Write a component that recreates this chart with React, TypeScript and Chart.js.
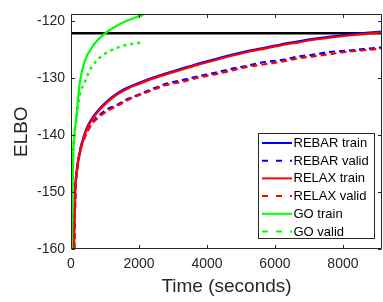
import React, { useEffect, useRef } from 'react';
import { Chart, registerables } from 'chart.js';

Chart.register(...registerables);

// ---- axes ----
const xTicks = [0, 2000, 4000, 6000, 8000];
const yTicks = [-160, -150, -140, -130, -120];
const xMin = 0;
const xMax = 9150;
const yMin = -160;
const yMax = -118.8;
const xTitle = 'Time (seconds)';
const yTitle = 'ELBO';

// ---- horizontal reference line ----
const refLineY = -122.1;

// ---- series ----
const relaxTrainT = [90, 105, 125, 180, 255, 330, 400, 500, 600, 700, 850, 1000, 1190, 1400, 1675, 2000, 2300, 2700, 3200, 3700, 4200, 4700, 5200, 5700, 6200, 6700, 7100, 7600, 8100, 8600, 9150];
const relaxTrainY = [-160, -155, -150, -146, -143.4, -141.5, -140, -138.5, -137.4, -136.6, -135.5, -134.6, -133.6, -132.7, -131.8, -131.0, -130.3, -129.5, -128.6, -127.7, -126.9, -126.1, -125.4, -124.8, -124.2, -123.7, -123.3, -122.9, -122.55, -122.25, -121.95];

const rebarTrainT = [80, 95, 118, 172, 248, 322, 392, 492, 592, 690, 840, 990, 1180, 1390, 1665, 1990, 2290, 2690, 3190, 3690, 4190, 4690, 5190, 5690, 6190, 6690, 7090, 7590, 8090, 8590, 9150];
const rebarTrainY = [-160, -155, -150, -146, -143.3, -141.4, -139.9, -138.4, -137.3, -136.45, -135.35, -134.45, -133.45, -132.55, -131.65, -130.85, -130.15, -129.35, -128.45, -127.55, -126.75, -125.95, -125.25, -124.65, -124.05, -123.55, -123.15, -122.75, -122.4, -122.1, -121.8];

const rebarValidT = [95, 130, 190, 270, 400, 600, 890, 1150, 1380, 1620, 1870, 2265, 2800, 3300, 3800, 4200, 4700, 5200, 5650, 6200, 6700, 7100, 7600, 8100, 8600, 9150];
const rebarValidY = [-160, -150, -145.5, -142.5, -140.3, -138.0, -136.2, -135.2, -134.6, -133.8, -133.2, -132.2, -131.0, -130.3, -129.6, -129.1, -128.4, -127.8, -127.2, -126.8, -126.2, -125.9, -125.4, -125.2, -124.9, -124.6];

const relaxValidT = [95, 130, 190, 270, 400, 600, 890, 1150, 1380, 1620, 1870, 2265, 2800, 3300, 3800, 4200, 4700, 5200, 5650, 6200, 6700, 7100, 7600, 8100, 8600, 9150];
const relaxValidY = [-160, -150.5, -145.8, -142.8, -140.5, -138.2, -136.5, -135.5, -134.8, -134.0, -133.3, -132.4, -131.2, -130.6, -129.8, -129.4, -128.7, -128.0, -127.6, -127.1, -126.5, -126.2, -125.8, -125.4, -125.1, -124.8];

const goTrainT = [25, 40, 60, 100, 155, 255, 400, 650, 990, 1380, 1870, 2130];
const goTrainY = [-160, -152, -144, -140, -136.9, -131, -127.1, -124.3, -122.2, -120.7, -119.4, -118.9];

const goValidT = [25, 40, 60, 100, 155, 255, 400, 550, 845, 1090, 1480, 1870, 2150];
const goValidY = [-160, -152, -144, -140.2, -137.3, -133, -130.8, -128.6, -126.4, -125.4, -124.4, -123.9, -123.7];

const seriesLabels = ['REBAR train', 'REBAR valid', 'RELAX train', 'RELAX valid', 'GO train', 'GO valid'];

const BLUE = '#0000ff';
const RED = '#ff0000';
const GREEN = '#00ff00';
const AXIS = '#262626';
const FONT = "'Liberation Sans', Arial, Helvetica, sans-serif";

const zip = (t: number[], y: number[]) => t.map((x, i) => ({ x, y: y[i] }));

const styles = [
  { color: BLUE, dash: [] as number[], width: 2.2 },
  { color: BLUE, dash: [6, 4], width: 2.2 },
  { color: RED, dash: [] as number[], width: 2.2 },
  { color: RED, dash: [6, 4], width: 2.2 },
  { color: GREEN, dash: [] as number[], width: 2.2 },
  { color: GREEN, dash: [3, 4], width: 2.5 },
];

const boxTicksPlugin = {
  id: 'boxTicks',
  afterDatasetsDraw(chart: any) {
    const { ctx, chartArea: a, scales } = chart;
    const len = 3.5;
    ctx.save();
    ctx.strokeStyle = AXIS;
    ctx.lineWidth = 1;
    ctx.setLineDash([]);
    ctx.beginPath();
    const L = Math.round(a.left) + 0.5;
    const R = Math.round(a.right) - 0.5;
    const T = Math.round(a.top) + 0.5;
    const B = Math.round(a.bottom) - 0.5;
    ctx.rect(L, T, R - L, B - T);
    xTicks.forEach((v) => {
      const px = Math.round(scales.x.getPixelForValue(v)) + 0.5;
      ctx.moveTo(px, B);
      ctx.lineTo(px, B - len);
      ctx.moveTo(px, T);
      ctx.lineTo(px, T + len);
    });
    yTicks.forEach((v) => {
      const py = Math.round(scales.y.getPixelForValue(v)) + 0.5;
      ctx.moveTo(L, py);
      ctx.lineTo(L + len, py);
      ctx.moveTo(R, py);
      ctx.lineTo(R - len, py);
    });
    ctx.stroke();
    ctx.restore();
  },
};

const insideLegendPlugin = {
  id: 'insideLegend',
  afterDraw(chart: any) {
    const { ctx, chartArea: a } = chart;
    const w = 117;
    const rowH = 17.7;
    const h = 106;
    const right = a.right - 7;
    const bottom = a.bottom - 10;
    const left = right - w;
    const top = bottom - h;
    ctx.save();
    ctx.fillStyle = '#ffffff';
    ctx.fillRect(left, top, w, h);
    ctx.strokeStyle = AXIS;
    ctx.lineWidth = 1;
    ctx.setLineDash([]);
    ctx.strokeRect(Math.round(left) + 0.5, Math.round(top) + 0.5, Math.round(w) - 1, Math.round(h) - 1);
    ctx.font = `13px ${FONT}`;
    ctx.textBaseline = 'middle';
    ctx.textAlign = 'left';
    seriesLabels.forEach((lab, i) => {
      const cy = top + 10 + i * rowH;
      const s = styles[i];
      ctx.strokeStyle = s.color;
      ctx.lineWidth = 2;
      ctx.setLineDash(s.dash.length ? [6, 8] : []);
      ctx.beginPath();
      ctx.moveTo(left + 4, cy);
      ctx.lineTo(left + 34, cy);
      ctx.stroke();
      ctx.fillStyle = '#000000';
      ctx.fillText(lab, left + 35.5, cy + 0.5);
    });
    ctx.restore();
  },
};

export default function App() {
  const canvasRef = useRef<HTMLCanvasElement | null>(null);

  useEffect(() => {
    const canvas = canvasRef.current;
    if (!canvas) return;
    const seriesData = [
      zip(rebarTrainT, rebarTrainY),
      zip(rebarValidT, rebarValidY),
      zip(relaxTrainT, relaxTrainY),
      zip(relaxValidT, relaxValidY),
      zip(goTrainT, goTrainY),
      zip(goValidT, goValidY),
    ];
    const drawOrder = [6, 5, 4, 3, 2, 1];
    const datasets: any[] = seriesData.map((d, i) => ({
      label: seriesLabels[i],
      data: d,
      borderColor: styles[i].color,
      backgroundColor: styles[i].color,
      borderWidth: styles[i].width,
      borderDash: styles[i].dash,
      pointRadius: 0,
      fill: false,
      cubicInterpolationMode: 'monotone',
      order: drawOrder[i],
    }));
    datasets.push({
      label: 'reference',
      data: [
        { x: xMin, y: refLineY },
        { x: xMax, y: refLineY },
      ],
      borderColor: '#000000',
      borderWidth: 2.5,
      pointRadius: 0,
      fill: false,
      order: 10,
    });

    const chart = new Chart(canvas, {
      type: 'line',
      data: { datasets },
      options: {
        animation: false,
        responsive: false,
        devicePixelRatio: 1,
        layout: { padding: { top: 10, right: 1, left: 0, bottom: 0 } },
        plugins: { legend: { display: false }, tooltip: { enabled: false } },
        scales: {
          x: {
            type: 'linear',
            min: xMin,
            max: xMax,
            afterBuildTicks: (s: any) => {
              s.ticks = xTicks.map((v) => ({ value: v }));
            },
            afterFit: (s: any) => {
              s.height = 53;
            },
            grid: { display: false, drawTicks: false },
            border: { display: false },
            ticks: {
              color: AXIS,
              font: { family: FONT, size: 14 },
              padding: 7,
              maxRotation: 0,
              callback: (v: any) => String(v),
            },
            title: {
              display: true,
              text: xTitle,
              color: AXIS,
              font: { family: FONT, size: 19 },
              padding: { top: 0, bottom: 4 },
            },
          },
          y: {
            type: 'linear',
            min: yMin,
            max: yMax,
            afterBuildTicks: (s: any) => {
              s.ticks = yTicks.map((v) => ({ value: v }));
            },
            afterFit: (s: any) => {
              s.width = 71;
            },
            grid: { display: false, drawTicks: false },
            border: { display: false },
            ticks: {
              color: AXIS,
              font: { family: FONT, size: 14 },
              padding: 6,
              callback: (v: any) => String(v),
            },
            title: {
              display: true,
              text: yTitle,
              color: AXIS,
              font: { family: FONT, size: 19 },
              padding: { top: 10, bottom: 0 },
            },
          },
        },
      },
      plugins: [boxTicksPlugin, insideLegendPlugin],
    });
    return () => chart.destroy();
  }, []);

  return (
    <div style={{ position: 'fixed', left: 0, top: 0, width: 383, height: 302, background: '#fff' }}>
      <canvas ref={canvasRef} width={383} height={302} style={{ width: 383, height: 302, display: 'block' }} />
    </div>
  );
}
